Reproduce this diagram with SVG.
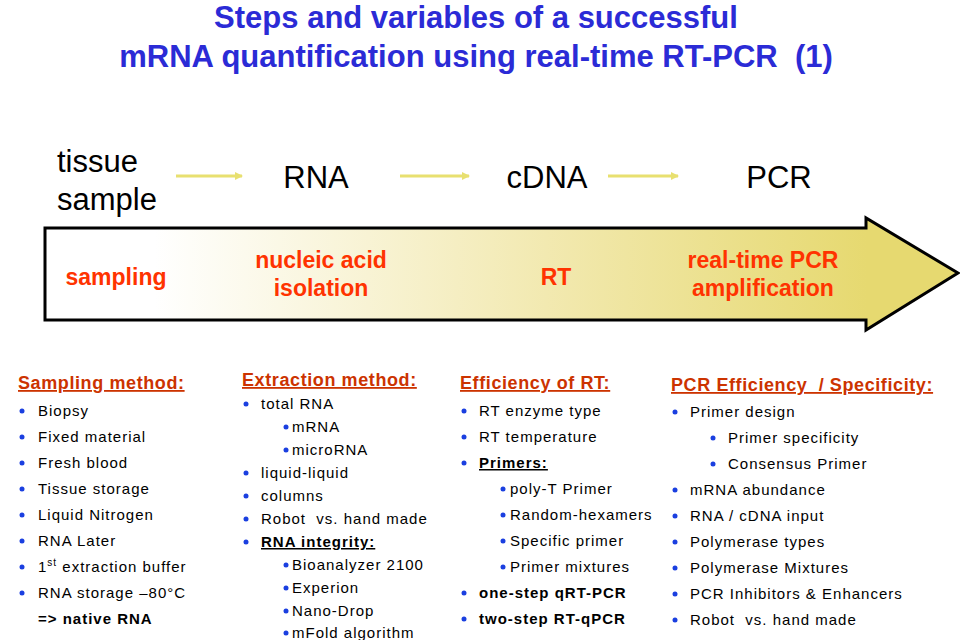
<svg xmlns="http://www.w3.org/2000/svg" width="960" height="640" viewBox="0 0 960 640">
<defs>
<linearGradient id="g" x1="45" y1="0" x2="958" y2="0" gradientUnits="userSpaceOnUse">
<stop offset="0.12" stop-color="#ffffff"/>
<stop offset="0.55" stop-color="#f2e9b0"/>
<stop offset="0.9" stop-color="#e6d970"/>
</linearGradient>
<marker id="ah" markerWidth="8" markerHeight="8" refX="7" refY="4" orient="auto" markerUnits="userSpaceOnUse"><path d="M0,0 L8,4 L0,8 Z" fill="#e8e070"/></marker>
<style>
text{white-space:pre}
.t{font-family:"Liberation Sans",Arial,sans-serif}
.title{font-size:31px;font-weight:bold;fill:#2b2bd6}
.stage{font-size:31px;fill:#000}
.lab{font-size:23px;font-weight:bold;fill:#ff3300}
.h{font-size:18px;font-weight:bold;fill:#cc3300;text-decoration:underline;letter-spacing:0.6px}
.i{font-size:15px;fill:#000;letter-spacing:1px}
.b{font-weight:bold}
.dot{fill:#1a3fe0}
.sa{stroke:#e8e070;stroke-width:3;fill:none}
</style>
</defs>
<g id="title" class="t title" text-anchor="middle">
<text x="476" y="28">Steps and variables of a successful</text>
<text x="476" y="67">mRNA quantification using real-time RT-PCR  (1)</text>
</g>
<g id="stages" class="t stage">
<text x="57" y="172">tissue</text>
<text x="57" y="210">sample</text>
<text x="316" y="188" text-anchor="middle">RNA</text>
<text x="547" y="188" text-anchor="middle">cDNA</text>
<text x="779" y="188" text-anchor="middle">PCR</text>
</g>
<g id="connectors">
<line class="sa" x1="176" y1="176" x2="242" y2="176" marker-end="url(#ah)"/>
<line class="sa" x1="400" y1="176" x2="469" y2="176" marker-end="url(#ah)"/>
<line class="sa" x1="608" y1="176" x2="678" y2="176" marker-end="url(#ah)"/>
</g>
<g id="bigarrow">
<path d="M45,228 H866 V218 L958,273 L866,330 V320 H45 Z" fill="url(#g)" stroke="#000" stroke-width="3" stroke-linejoin="miter"/>
<g class="t lab" text-anchor="middle">
<text x="116" y="285">sampling</text>
<text x="321" y="268">nucleic acid</text>
<text x="321" y="296">isolation</text>
<text x="556" y="285">RT</text>
<text x="763" y="268">real-time PCR</text>
<text x="763" y="296">amplification</text>
</g>
</g>
<g id="col1" class="t">
<text class="h" x="18" y="389">Sampling method:</text>
<g class="i">
<text x="38" y="416">Biopsy</text>
<text x="38" y="442">Fixed material</text>
<text x="38" y="468">Fresh blood</text>
<text x="38" y="494">Tissue storage</text>
<text x="38" y="520">Liquid Nitrogen</text>
<text x="38" y="546">RNA Later</text>
<text x="38" y="572">1<tspan font-size="10" dy="-6">st</tspan><tspan dy="6"> extraction buffer</tspan></text>
<text x="38" y="598">RNA storage –80°C</text>
<text x="38" y="624" class="b">=&gt; native RNA</text>
</g>
<g class="dot">
<circle cx="22" cy="411" r="2.5"/><circle cx="22" cy="437" r="2.5"/><circle cx="22" cy="463" r="2.5"/><circle cx="22" cy="489" r="2.5"/><circle cx="22" cy="515" r="2.5"/><circle cx="22" cy="541" r="2.5"/><circle cx="22" cy="567" r="2.5"/><circle cx="22" cy="593" r="2.5"/>
</g>
</g>
<g id="col2" class="t">
<text class="h" x="242" y="386">Extraction method:</text>
<g class="i">
<text x="261" y="409">total RNA</text>
<text x="292" y="432">mRNA</text>
<text x="292" y="455">microRNA</text>
<text x="261" y="478">liquid-liquid</text>
<text x="261" y="501">columns</text>
<text x="261" y="524">Robot  vs. hand made</text>
<text x="261" y="547" class="b" text-decoration="underline">RNA integrity:</text>
<text x="292" y="570">Bioanalyzer 2100</text>
<text x="292" y="593">Experion</text>
<text x="292" y="616">Nano-Drop</text>
<text x="292" y="638">mFold algorithm</text>
</g>
<g class="dot">
<circle cx="246" cy="404" r="2.5"/><circle cx="286" cy="427" r="2.5"/><circle cx="286" cy="450" r="2.5"/><circle cx="246" cy="473" r="2.5"/><circle cx="246" cy="496" r="2.5"/><circle cx="246" cy="519" r="2.5"/><circle cx="246" cy="542" r="2.5"/><circle cx="286" cy="565" r="2.5"/><circle cx="286" cy="588" r="2.5"/><circle cx="286" cy="611" r="2.5"/><circle cx="286" cy="633" r="2.5"/>
</g>
</g>
<g id="col3" class="t">
<text class="h" x="460" y="389">Efficiency of RT:</text>
<g class="i">
<text x="479" y="416">RT enzyme type</text>
<text x="479" y="442">RT temperature</text>
<text x="479" y="468" class="b" text-decoration="underline">Primers:</text>
<text x="510" y="494">poly-T Primer</text>
<text x="510" y="520">Random-hexamers</text>
<text x="510" y="546">Specific primer</text>
<text x="510" y="572">Primer mixtures</text>
<text x="479" y="598" class="b">one-step qRT-PCR</text>
<text x="479" y="624" class="b">two-step RT-qPCR</text>
</g>
<g class="dot">
<circle cx="464" cy="411" r="2.5"/><circle cx="464" cy="437" r="2.5"/><circle cx="464" cy="463" r="2.5"/><circle cx="503" cy="489" r="2.5"/><circle cx="503" cy="515" r="2.5"/><circle cx="503" cy="541" r="2.5"/><circle cx="503" cy="567" r="2.5"/><circle cx="464" cy="593" r="2.5"/><circle cx="464" cy="619" r="2.5"/>
</g>
</g>
<g id="col4" class="t">
<text class="h" x="671" y="391">PCR Efficiency  / Specificity:</text>
<g class="i">
<text x="690" y="417">Primer design</text>
<text x="728" y="443">Primer specificity</text>
<text x="728" y="469">Consensus Primer</text>
<text x="690" y="495">mRNA abundance</text>
<text x="690" y="521">RNA / cDNA input</text>
<text x="690" y="547">Polymerase types</text>
<text x="690" y="573">Polymerase Mixtures</text>
<text x="690" y="599">PCR Inhibitors &amp; Enhancers</text>
<text x="690" y="625">Robot  vs. hand made</text>
</g>
<g class="dot">
<circle cx="675" cy="412" r="2.5"/><circle cx="713" cy="438" r="2.5"/><circle cx="713" cy="464" r="2.5"/><circle cx="675" cy="490" r="2.5"/><circle cx="675" cy="516" r="2.5"/><circle cx="675" cy="542" r="2.5"/><circle cx="675" cy="568" r="2.5"/><circle cx="675" cy="594" r="2.5"/><circle cx="675" cy="620" r="2.5"/>
</g>
</g>
</svg>
